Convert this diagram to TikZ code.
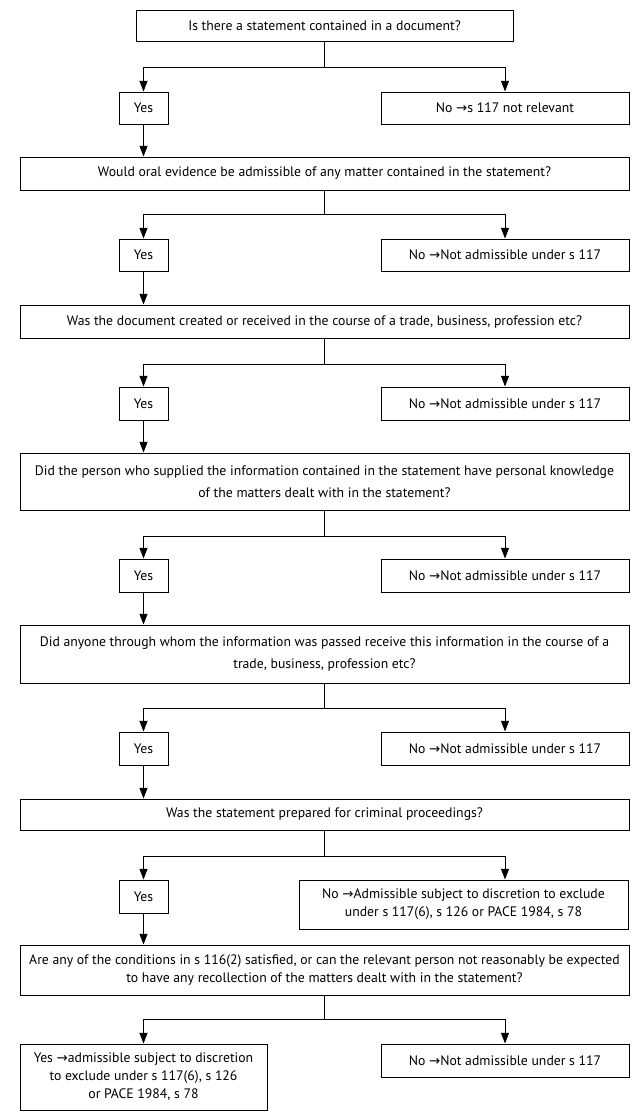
\documentclass[tikz,border=0pt]{standalone}
\usepackage{fontspec}
\setmainfont{PT Sans}
\newfontfamily\arrfont{DejaVu Sans}
\usetikzlibrary{arrows.meta}
\newcommand{\ar}{{\arrfont\fontsize{10}{10}\selectfont →}}
\begin{document}
\begin{tikzpicture}[x=0.75pt,y=-0.75pt,
  box/.style={draw=black,line width=0.75pt,inner sep=0pt,align=center,
    font=\fontsize{10.3}{13.5}\selectfont},
  conn/.style={draw=black,line width=0.75pt},
  arr/.style={conn,-{Triangle[length=8pt,width=6pt]}}]
\useasboundingbox[fill=white] (0,0) rectangle (637,1117);
% question boxes
\node[box,minimum width=377*0.75pt,minimum height=31*0.75pt] (q1) at (324.5,25.5) {Is there a statement contained in a document?};
\node[box,minimum width=609*0.75pt,minimum height=33*0.75pt] (q2) at (324.5,173.5) {Would oral evidence be admissible of any matter contained in the statement?};
\node[box,minimum width=609*0.75pt,minimum height=33*0.75pt] (q3) at (324.5,321.5) {Was the document created or received in the course of a trade, business, profession etc?};
\node[box,minimum width=609*0.75pt,minimum height=57*0.75pt,font=\fontsize{10.3}{16.5}\selectfont] (q4) at (324.5,481.5) {Did the person who supplied the information contained in the statement have personal knowledge\\of the matters dealt with in the statement?};
\node[box,minimum width=609*0.75pt,minimum height=58*0.75pt,font=\fontsize{10.3}{16.5}\selectfont] (q5) at (324.5,654) {Did anyone through whom the information was passed receive this information in the course of a\\trade, business, profession etc?};
\node[box,minimum width=609*0.75pt,minimum height=31*0.75pt] (q6) at (324.5,814.5) {Was the statement prepared for criminal proceedings?};
\node[box,minimum width=609*0.75pt,minimum height=50*0.75pt] (q7) at (324.5,970) {Are any of the conditions in s 116(2) satisfied, or can the relevant person not reasonably be expected\\to have any recollection of the matters dealt with in the statement?};
% yes boxes
\node[box,minimum width=49*0.75pt,minimum height=32*0.75pt] (y1) at (143.5,108) {Yes};
\node[box,minimum width=49*0.75pt,minimum height=32*0.75pt] (y2) at (143.5,255) {Yes};
\node[box,minimum width=49*0.75pt,minimum height=33*0.75pt] (y3) at (143.5,403.5) {Yes};
\node[box,minimum width=49*0.75pt,minimum height=33*0.75pt] (y4) at (143.5,575.5) {Yes};
\node[box,minimum width=49*0.75pt,minimum height=33*0.75pt] (y5) at (143.5,748.5) {Yes};
\node[box,minimum width=49*0.75pt,minimum height=33*0.75pt] (y6) at (143.5,896.5) {Yes};
\node[box,minimum width=247*0.75pt,minimum height=66*0.75pt] (y7) at (143.5,1077) {Yes \ar admissible subject to discretion\\to exclude under s 117(6), s 126\\or PACE 1984, s 78};
% no boxes
\node[box,minimum width=248*0.75pt,minimum height=32*0.75pt] (n1) at (505,108) {No \ar s 117 not relevant};
\node[box,minimum width=248*0.75pt,minimum height=32*0.75pt] (n2) at (505,255) {No \ar Not admissible under s 117};
\node[box,minimum width=248*0.75pt,minimum height=33*0.75pt] (n3) at (505,403.5) {No \ar Not admissible under s 117};
\node[box,minimum width=248*0.75pt,minimum height=33*0.75pt] (n4) at (505,575.5) {No \ar Not admissible under s 117};
\node[box,minimum width=248*0.75pt,minimum height=33*0.75pt] (n5) at (505,748.5) {No \ar Not admissible under s 117};
\node[box,minimum width=329*0.75pt,minimum height=49*0.75pt] (n6) at (463.5,904.5) {No \ar Admissible subject to discretion to exclude\\under s 117(6), s 126 or PACE 1984, s 78};
\node[box,minimum width=248*0.75pt,minimum height=33*0.75pt] (n7) at (505,1060.5) {No \ar Not admissible under s 117};
% branch points
\coordinate (b1) at (324.5,67);
\coordinate (b2) at (324.5,214);
\coordinate (b3) at (324.5,364);
\coordinate (b4) at (324.5,536);
\coordinate (b5) at (324.5,708);
\coordinate (b6) at (324.5,856);
\coordinate (b7) at (324.5,1019);
\coordinate (r6) at (505,856);
% connectors
\foreach \i in {1,...,5,7}{
  \draw[conn] (q\i.south) -- (b\i);
  \draw[arr] (b\i) -| (y\i.north);
  \draw[arr] (b\i) -| (n\i.north);
}
\draw[conn] (q6.south) -- (b6);
\draw[arr] (b6) -| (y6.north);
\draw[conn] (b6) -- (r6);
\draw[arr] (r6) -- (r6 |- n6.north);
\draw[arr] (y1.south) -- (y1.south |- q2.north);
\draw[arr] (y2.south) -- (y2.south |- q3.north);
\draw[arr] (y3.south) -- (y3.south |- q4.north);
\draw[arr] (y4.south) -- (y4.south |- q5.north);
\draw[arr] (y5.south) -- (y5.south |- q6.north);
\draw[arr] (y6.south) -- (y6.south |- q7.north);
\end{tikzpicture}
\end{document}
